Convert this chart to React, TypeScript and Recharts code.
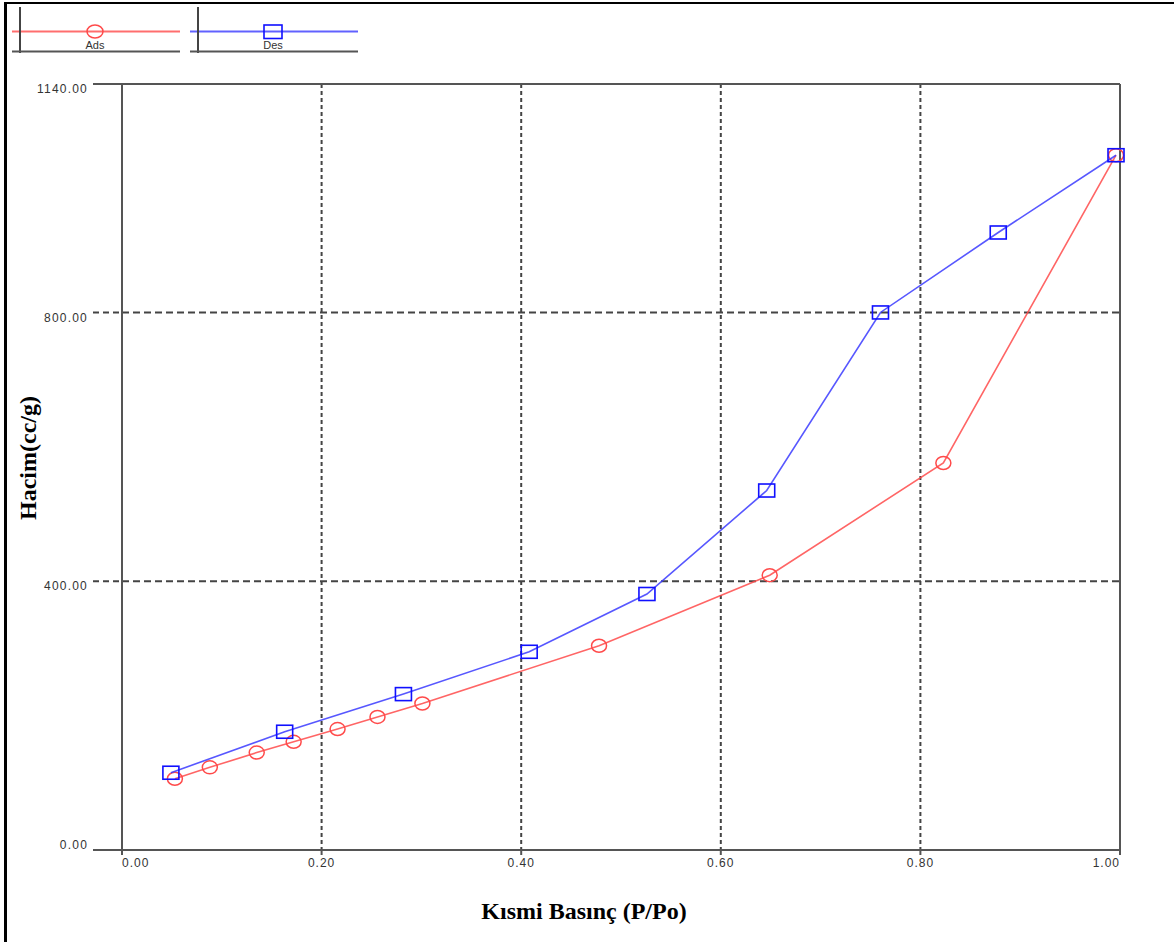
import {
  ScatterChart,
  Scatter,
  XAxis,
  YAxis,
  CartesianGrid,
  ReferenceLine,
  Legend,
  Label,
} from "recharts";

// adsorption branch (P/Po, cc/g)
const adsX = [0.053, 0.088, 0.135, 0.172, 0.216, 0.256, 0.301, 0.478, 0.649, 0.823, 0.996];
const adsY = [106, 123, 145, 161, 180, 198, 218, 304, 409, 576, 1034];

// desorption branch
const desX = [0.049, 0.163, 0.282, 0.408, 0.526, 0.646, 0.76, 0.878, 0.996];
const desY = [115, 176, 232, 295, 381, 535, 800, 919, 1034];

const xTicks = [0, 0.2, 0.4, 0.6, 0.8, 1];
const yTicks = [0, 400, 800, 1140];

const adsData = adsX.map((x, i) => ({ x, y: adsY[i] }));
const desData = desX.map((x, i) => ({ x, y: desY[i] }));

const RED = "#ff4a4a";
const BLUE = "#3a3aff";
const AXIS = "#555";
const GRID = "#444";
const TICK_LEN = 29;
const TICK_GAP = 5;
const SANS = "'Liberation Sans', Arial, sans-serif";
const SERIF = "'Liberation Serif', 'Times New Roman', serif";

const CircleDot = (props: any) => (
  <ellipse
    cx={props.cx}
    cy={props.cy}
    rx={7.5}
    ry={6.5}
    fill="none"
    stroke={RED}
    strokeWidth={1.5}
  />
);

const SquareDot = (props: any) => (
  <rect
    x={props.cx - 8}
    y={props.cy - 6.5}
    width={16}
    height={13}
    fill="none"
    stroke="#1010ff"
    strokeWidth={1.6}
  />
);

const YTick = (props: any) => {
  const { x, y, payload } = props;
  const v = payload.value;
  const edge = v === 0 || v === 1140;
  return (
    <g>
      <line
        x1={x + TICK_GAP}
        x2={x + TICK_GAP + TICK_LEN}
        y1={y}
        y2={y}
        stroke={edge ? AXIS : GRID}
        strokeWidth={2}
        strokeDasharray={edge ? undefined : "6 4"}
      />
      <text
        x={x}
        y={y + (v === 0 ? -5 : 5)}
        dy="0.35em"
        textAnchor="end"
        fontFamily={SANS}
        fontSize={12}
        letterSpacing={1.2}
        fill="#333"
      >
        {v.toFixed(2)}
      </text>
    </g>
  );
};

const XTick = (props: any) => {
  const { x, y, payload } = props;
  const v = payload.value;
  const anchor = v === 0 ? "start" : v === 1 ? "end" : "middle";
  return (
    <text
      x={x}
      y={y}
      dy="0.71em"
      textAnchor={anchor}
      fontFamily={SANS}
      fontSize={12}
      letterSpacing={1}
      fill="#333"
    >
      {v.toFixed(2)}
    </text>
  );
};

const XTitle = (props: any) => {
  const vb = props.viewBox;
  return (
    <text
      x={vb.x + vb.width / 2 - 37}
      y={vb.y + 63}
      dominantBaseline="middle"
      textAnchor="middle"
      fontFamily={SERIF}
      fontWeight="bold"
      fontSize={24}
      fill="#000"
    >
      Kısmi Basınç (P/Po)
    </text>
  );
};

const YTitle = (props: any) => {
  const vb = props.viewBox;
  const cx = vb.x + 30;
  const cy = 458;
  return (
    <text
      x={cx}
      y={cy}
      transform={`rotate(-90 ${cx} ${cy})`}
      dominantBaseline="middle"
      textAnchor="middle"
      fontFamily={SERIF}
      fontWeight="bold"
      fontSize={24}
      fill="#000"
    >
      Hacim(cc/g)
    </text>
  );
};

const LegendBoxes = (props: any) => {
  const items = props.payload || [];
  return (
    <svg width={380} height={60}>
      {items.map((item: any, i: number) => {
        const ox = 178 * i;
        const mx = 95 + ox;
        return (
          <g key={item.value}>
            <line x1={12 + ox} x2={180 + ox} y1={31.5} y2={31.5} stroke={item.color} strokeWidth={2} strokeOpacity={0.8} />
            <line x1={20 + ox} x2={20 + ox} y1={7} y2={53} stroke="#444" strokeWidth={2} />
            <line x1={12 + ox} x2={180 + ox} y1={51.5} y2={51.5} stroke={AXIS} strokeWidth={2} />
            {item.type === "circle" ? (
              <ellipse cx={mx} cy={31.5} rx={8} ry={6.5} fill="none" stroke={item.color} strokeWidth={1.5} />
            ) : (
              <rect x={mx - 9} y={25} width={18} height={13.5} fill="none" stroke="#1010ff" strokeWidth={1.6} />
            )}
            <text x={mx} y={46} textAnchor="middle" dominantBaseline="middle" fontFamily={SANS} fontSize={11} fill="#333">
              {item.value}
            </text>
          </g>
        );
      })}
    </svg>
  );
};

export default function App() {
  return (
    <div
      style={{
        position: "absolute",
        left: 0,
        top: 0,
        width: 1174,
        height: 942,
        background: "#fff",
      }}
    >
      <ScatterChart
        width={1174}
        height={942}
        margin={{ top: 84, right: 54, bottom: 32, left: 0 }}
      >
        <CartesianGrid horizontal={false} stroke={GRID} strokeWidth={2} strokeDasharray="4 3" />
        <CartesianGrid vertical={false} stroke={GRID} strokeWidth={2} strokeDasharray="7 4" />
        <XAxis
          type="number"
          dataKey="x"
          domain={[0, 1]}
          ticks={xTicks}
          height={60}
          axisLine={{ stroke: AXIS, strokeWidth: 2 }}
          tickLine={{ stroke: AXIS, strokeWidth: 2 }}
          tickSize={5}
          tickMargin={3}
          tick={<XTick />}
          interval={0}
        >
          <Label content={<XTitle />} />
        </XAxis>
        <YAxis
          type="number"
          dataKey="y"
          domain={[0, 1140]}
          ticks={yTicks}
          width={122}
          axisLine={{ stroke: AXIS, strokeWidth: 2 }}
          tickLine={false}
          tickSize={TICK_LEN}
          tickMargin={TICK_GAP}
          tick={<YTick />}
          interval={0}
        >
          <Label content={<YTitle />} />
        </YAxis>
        <ReferenceLine y={1140} stroke={AXIS} strokeWidth={2} />
        <ReferenceLine x={1} stroke={AXIS} strokeWidth={2} />
        <Legend
          layout="vertical"
          align="center"
          verticalAlign="middle"
          wrapperStyle={{ top: 0, left: 0, width: 380, height: 60 }}
          content={<LegendBoxes />}
        />
        <Scatter
          name="Ads"
          data={adsData}
          fill={RED}
          legendType="circle"
          line={{ stroke: RED, strokeWidth: 1.6, strokeOpacity: 0.85 }}
          lineType="joint"
          shape={<CircleDot />}
          isAnimationActive={false}
        />
        <Scatter
          name="Des"
          data={desData}
          fill={BLUE}
          legendType="square"
          line={{ stroke: BLUE, strokeWidth: 1.6, strokeOpacity: 0.85 }}
          lineType="joint"
          shape={<SquareDot />}
          isAnimationActive={false}
        />
      </ScatterChart>
      <div
        style={{
          position: "absolute",
          left: 4,
          top: 2,
          right: 0,
          bottom: 0,
          borderLeft: "3px solid #000",
          borderTop: "2px solid #000",
          pointerEvents: "none",
        }}
      />
    </div>
  );
}
